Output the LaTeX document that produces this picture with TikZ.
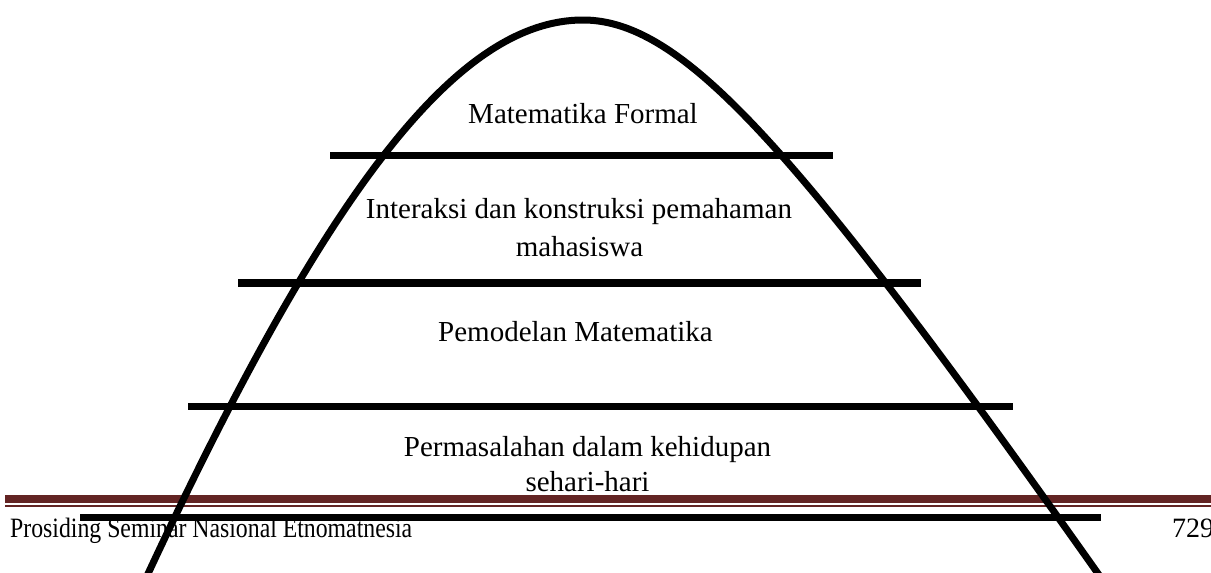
\documentclass[tikz,border=0pt]{standalone}
\usepackage{fontspec}
\setmainfont{Liberation Serif}
\usepackage{graphicx}
\definecolor{footred}{HTML}{632423}
\begin{document}
\begin{tikzpicture}[x=1pt,y=-1pt,
  lbl/.style={font=\fontsize{29}{34}\selectfont, inner sep=0pt, anchor=base},
  bar/.style={line width=7.7pt},
  hill/.style={line width=7pt, line join=round},
  footbar/.style={fill=footred}]
\useasboundingbox (0,0) rectangle (1211,573);
\clip (0,0) rectangle (1211,573);
% footer
\fill[footbar] (5,495) rectangle (1211,503.3);
\fill[footbar] (5,505) rectangle (1211,507);
\node[anchor=base west, inner sep=0pt] (foot) at (10,537)
  {\resizebox{402pt}{\height}{\fontsize{28}{30}\selectfont Prosiding Seminar Nasional Etnomatnesia}};
\node[anchor=base west, inner sep=0pt] (page) at (1172,537)
  {\fontsize{28}{30}\selectfont 729};
% labels
\node[lbl] (t1) at (583,123.3) {Matematika Formal};
\node[lbl] (t2a) at (579,218.5) {Interaksi dan konstruksi pemahaman};
\node[lbl] (t2b) at (579.5,256.7) {mahasiswa};
\node[lbl] (t3) at (575.5,341) {Pemodelan Matematika};
\node[lbl] (t4a) at (587.5,456.7) {Permasalahan dalam kehidupan};
\node[lbl] (t4b) at (587.5,491.7) {sehari-hari};
% horizontal bars
\draw[bar] (330,155.5) -- (833,155.5);
\draw[bar] (238,283) -- (921,283);
\draw[bar] (188,406.5) -- (1013,406.5);
\draw[bar] (80,517.5) -- (1101,517.5);
% hill curve (u^2 = (y-20)/100)
\draw[hill] plot[domain=2.41:0, samples=100, smooth]
    ({583-10*\x*sqrt(278+11.5*\x*\x)}, {20+100*\x*\x})
  -- plot[domain=0:2.41, samples=100, smooth]
    ({583+10*\x*sqrt(230+45*\x*\x)}, {20+100*\x*\x});
\end{tikzpicture}
\end{document}
